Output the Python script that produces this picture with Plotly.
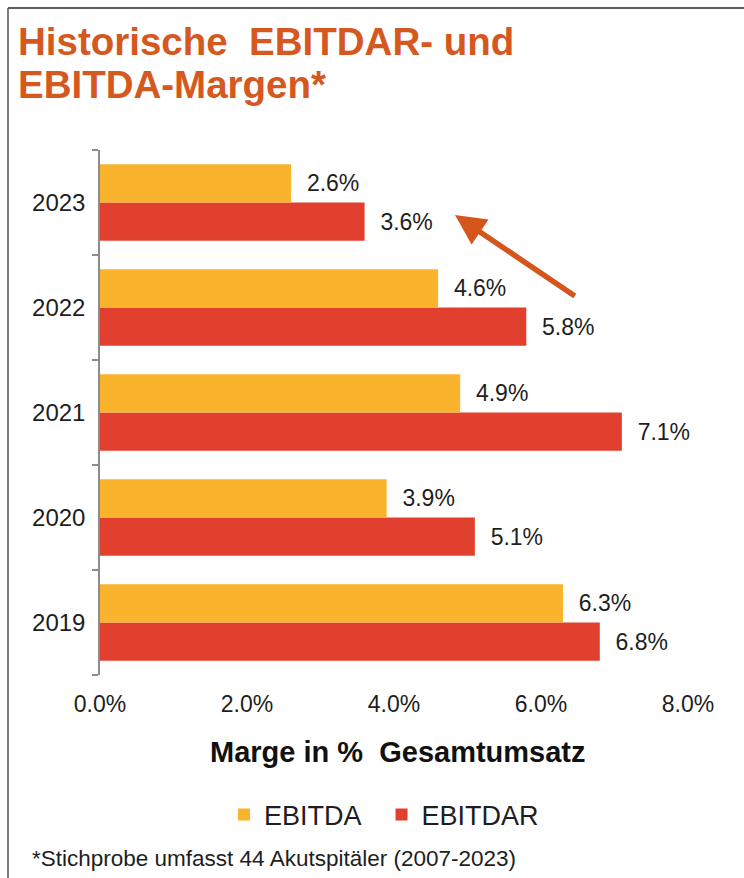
import plotly.graph_objects as go

years = ["2019", "2020", "2021", "2022", "2023"]
ebitda = [6.3, 3.9, 4.9, 4.6, 2.6]
ebitdar = [6.8, 5.1, 7.1, 5.8, 3.6]
x_ticks = [0, 2, 4, 6, 8]
x_tick_labels = ["0.0%", "2.0%", "4.0%", "6.0%", "8.0%"]
title_lines = ["Historische  EBITDAR- und", "EBITDA-Margen*"]

W, H = 744, 878
FONT = "Liberation Sans, Arial, sans-serif"
C_EBITDA = "#FAB32C"
C_EBITDAR = "#E2402E"
C_TITLE = "#D5581F"
C_TEXT = "#1E1E1E"

def px_x(p):
    return p / W

def px_y(p):
    return 1 - p / H

fig = go.Figure()
fig.add_trace(go.Bar(
    y=years, x=ebitdar, orientation="h", name="EBITDAR",
    marker=dict(color=C_EBITDAR, line=dict(width=0)),
    text=ebitdar, texttemplate="\u00a0\u00a0%{x:.1f}%", textposition="outside",
    textfont=dict(family=FONT, size=23, color=C_TEXT), cliponaxis=False,
))
fig.add_trace(go.Bar(
    y=years, x=ebitda, orientation="h", name="EBITDA\u00a0\u00a0",
    marker=dict(color=C_EBITDA, line=dict(width=0)),
    text=ebitda, texttemplate="\u00a0\u00a0%{x:.1f}%", textposition="outside",
    textfont=dict(family=FONT, size=23, color=C_TEXT), cliponaxis=False,
))

fig.update_layout(
    width=W, height=H,
    margin=dict(l=0, r=0, t=0, b=0),
    paper_bgcolor="white", plot_bgcolor="white",
    barmode="group", bargap=0.27, bargroupgap=0,
    uniformtext=dict(mode=False),
    font=dict(family=FONT, color=C_TEXT),
    showlegend=True,
    legend=dict(
        orientation="h", traceorder="reversed",
        x=px_x(384), xanchor="center", y=px_y(815), yanchor="middle",
        font=dict(family=FONT, size=27, color=C_TEXT),
        itemwidth=30, itemsizing="constant",
        bgcolor="rgba(0,0,0,0)",
    ),
    xaxis=dict(
        domain=[px_x(100), px_x(688)], range=[0, 8],
        tickmode="array", tickvals=x_ticks, ticktext=x_tick_labels,
        showgrid=False, zeroline=False, showline=False, ticks="",
        tickfont=dict(family=FONT, size=23, color=C_TEXT),
        ticklabelstandoff=13, automargin=False, fixedrange=True,
    ),
    yaxis=dict(
        domain=[px_y(675), px_y(150)],
        type="category", categoryorder="array", categoryarray=years,
        showgrid=False, zeroline=False,
        showline=True, linecolor="#8C8C8C", linewidth=1.5,
        ticks="outside", tickson="boundaries", ticklen=6, tickcolor="#8C8C8C", tickwidth=1.5,
        tickfont=dict(family=FONT, size=24, color=C_TEXT),
        ticklabelstandoff=8, automargin=False, fixedrange=True,
    ),
)

# Title (two lines placed separately for tight line spacing)
for line, yc in zip(title_lines, [41, 84]):
    fig.add_annotation(
        xref="paper", yref="paper", x=px_x(16), y=px_y(yc), xanchor="left", yanchor="middle",
        text=f"<b>{line}</b>", align="left",
        showarrow=False, font=dict(family=FONT, size=38.5, color=C_TITLE),
    )
# Axis title
fig.add_annotation(
    xref="paper", yref="paper", x=px_x(398), y=px_y(752), xanchor="center", yanchor="middle",
    text="<b>Marge in %  Gesamtumsatz</b>", showarrow=False,
    font=dict(family=FONT, size=29, color="#111111"),
)
# Footnote
fig.add_annotation(
    xref="paper", yref="paper", x=px_x(30), y=px_y(858), xanchor="left", yanchor="middle",
    text="*Stichprobe umfasst 44 Akutspitäler (2007-2023)", showarrow=False,
    font=dict(family=FONT, size=22.5, color=C_TEXT),
)
# Arrow
fig.add_annotation(
    xref="x", yref="y", x=4.83, y=3.88, axref="x", ayref="y", ax=6.48, ay=3.1,
    text="", showarrow=True, arrowhead=2, arrowsize=1.1, arrowwidth=5.5, arrowcolor="#D4561C",
)

# Frame lines (top and left)
fig.add_shape(type="line", xref="paper", yref="paper", x0=px_x(8), x1=1, y0=px_y(8), y1=px_y(8),
              line=dict(color="#2A2A2A", width=1.5))
fig.add_shape(type="line", xref="paper", yref="paper", x0=px_x(8), x1=px_x(8), y0=px_y(8), y1=0,
              line=dict(color="#555555", width=1.5))

fig.write_html("out.html")
